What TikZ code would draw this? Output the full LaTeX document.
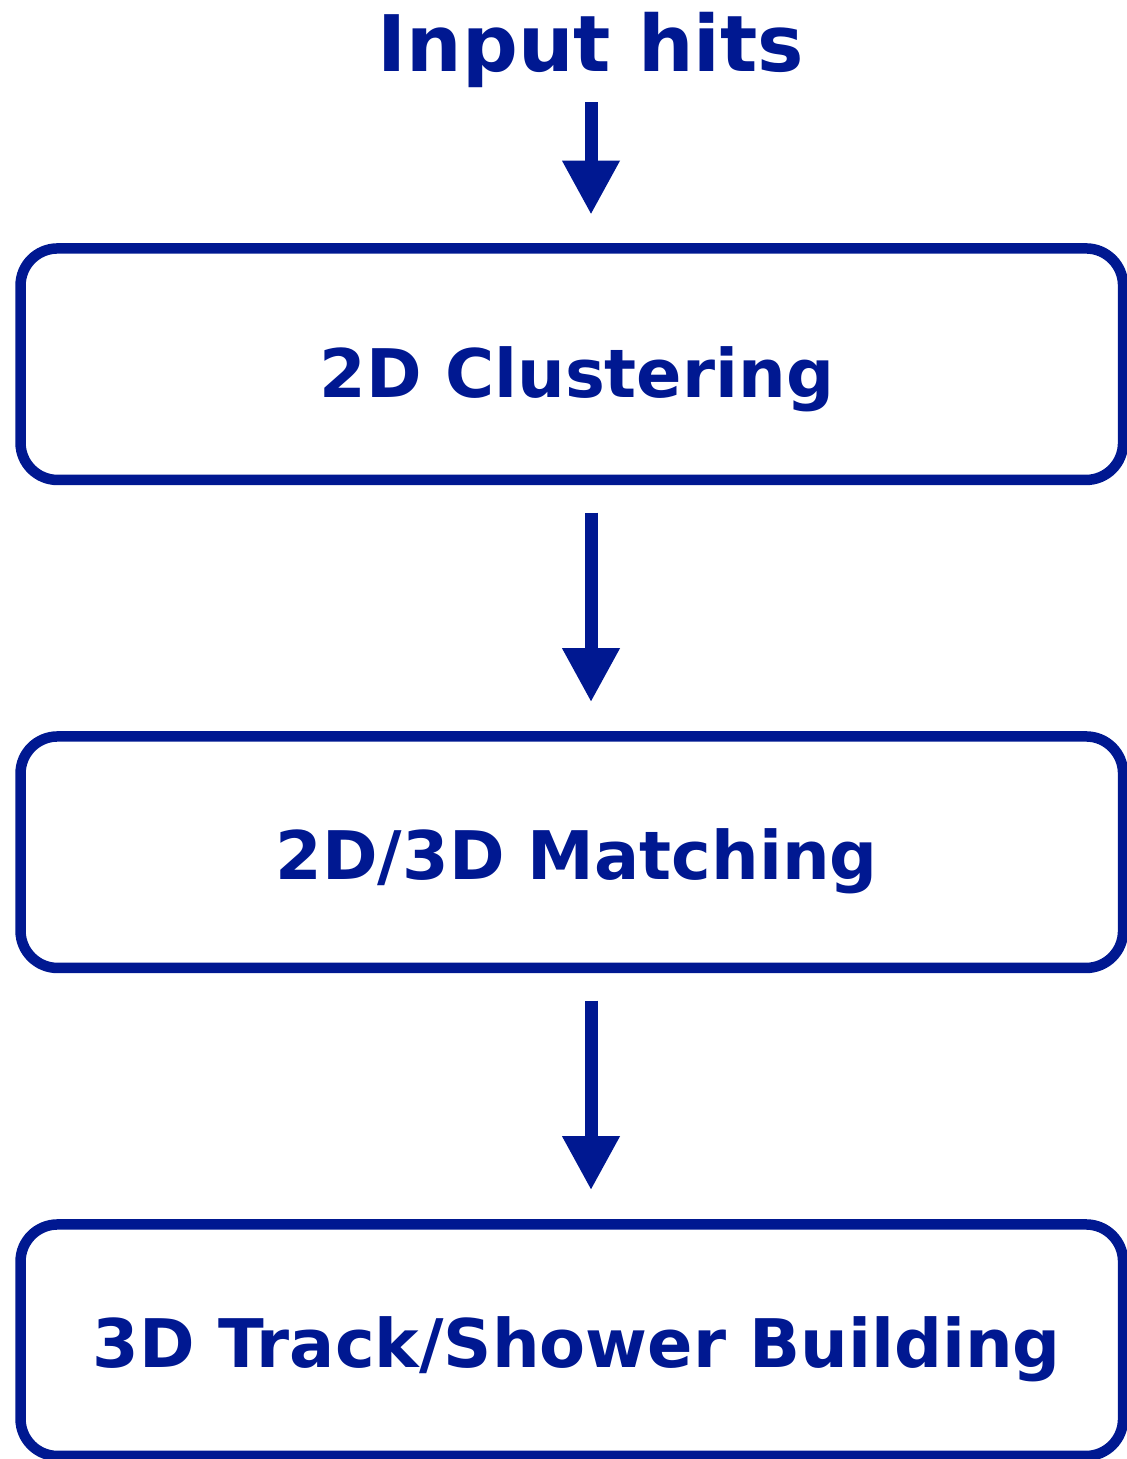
\documentclass[tikz,border=0pt]{standalone}
\usepackage{fontspec}
\setmainfont{DejaVu Sans}
\usetikzlibrary{positioning,arrows.meta}
\definecolor{flowblue}{RGB}{0,24,145}

\begin{document}
\begin{tikzpicture}[
    node distance=123pt,
    stage/.style={draw=flowblue, line width=5.25pt, rounded corners=18.5pt,
      minimum width=551.25pt, minimum height=115.75pt, inner sep=0pt,
      text=flowblue, font=\bfseries\fontsize{33.5}{40}\selectfont,
      text height=27.4pt, text depth=0pt,
      execute at begin node={\hspace*{5pt}}},
    flow/.style={draw=flowblue, line width=6.5pt,
      -{Triangle[length=27pt,width=27pt]},
      shorten <=13.75pt, shorten >=14.5pt}
  ]
  % Page size
  \useasboundingbox (0,0) rectangle (563pt,-729.5pt);

  % Stages
  \node[anchor=base, text=flowblue, font=\bfseries\fontsize{39}{46}\selectfont]
    (hits) at (295.5pt,-36pt) {Input hits};
  \node[stage, text height=33.4pt] (clust) at (285.9pt,-182.1pt) {2D Clustering};
  \node[stage, below=of clust] (match) {2D/3D Matching};
  \node[stage, below=of match] (build) {3D Track/Shower Building};

  % Arrows
  \draw[flow, shorten <=3.5pt, shorten >=14.25pt] (hits.south) -- (hits.south |- clust.north);
  \draw[flow] (clust.south -| hits) -- (match.north -| hits);
  \draw[flow] (match.south -| hits) -- (build.north -| hits);
\end{tikzpicture}
\end{document}
